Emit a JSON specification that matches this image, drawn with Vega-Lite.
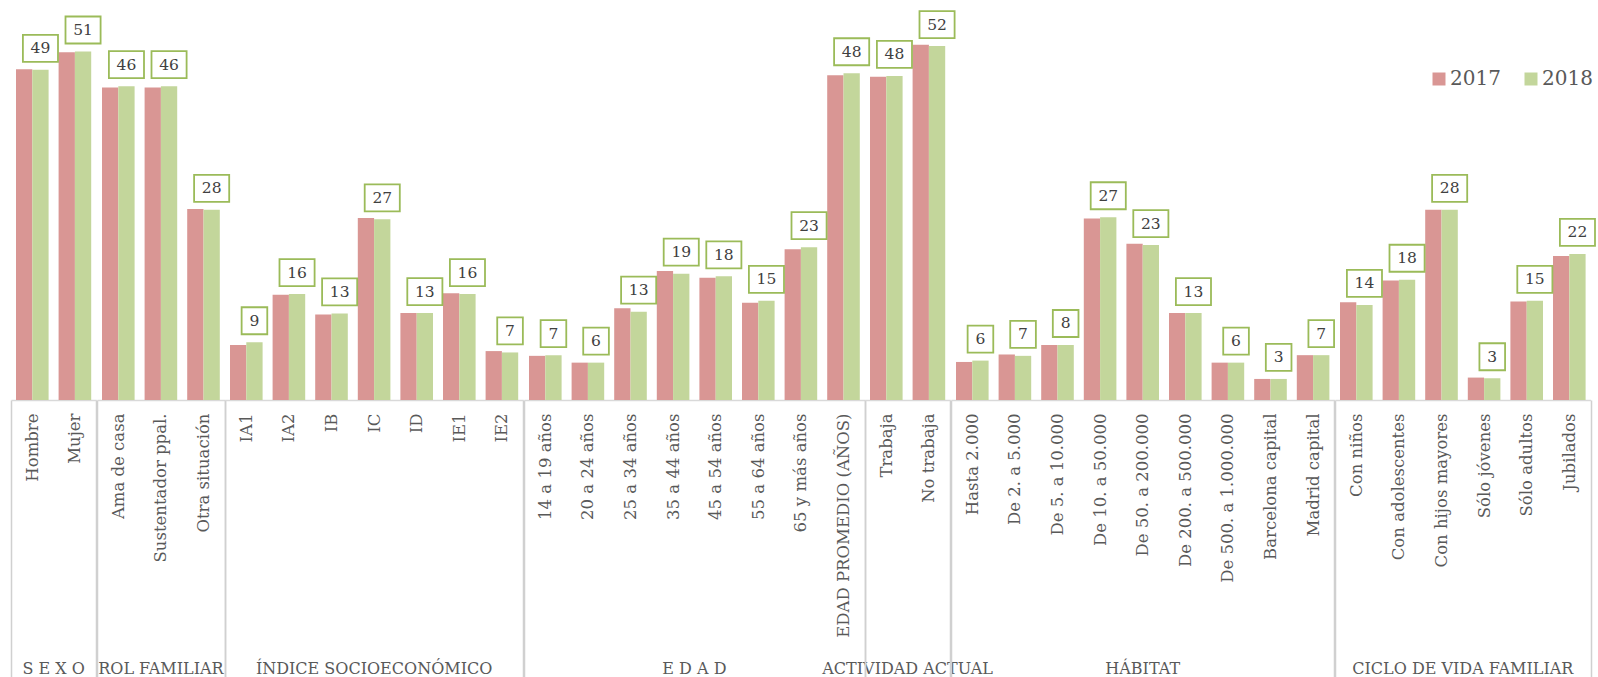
{
  "$schema": "https://vega.github.io/schema/vega-lite/v6.json",
  "background": "white",
  "padding": {"left": 3, "top": 6, "right": 0, "bottom": 0},
  "autosize": {"type": "pad"},
  "bounds": "flush",
  "data": {"values": [
    {"grupo": "S E X O", "cat": "Hombre", "2017": 48.7, "2018": 48.6},
    {"grupo": "S E X O", "cat": "Mujer", "2017": 51.2, "2018": 51.3},
    {"grupo": "ROL FAMILIAR", "cat": "Ama de casa", "2017": 46.0, "2018": 46.2},
    {"grupo": "ROL FAMILIAR", "cat": "Sustentador ppal.", "2017": 46.0, "2018": 46.2},
    {"grupo": "ROL FAMILIAR", "cat": "Otra situación", "2017": 28.1, "2018": 28.0},
    {"grupo": "ÍNDICE SOCIOECONÓMICO", "cat": "IA1", "2017": 8.1, "2018": 8.5},
    {"grupo": "ÍNDICE SOCIOECONÓMICO", "cat": "IA2", "2017": 15.5, "2018": 15.6},
    {"grupo": "ÍNDICE SOCIOECONÓMICO", "cat": "IB", "2017": 12.6, "2018": 12.75},
    {"grupo": "ÍNDICE SOCIOECONÓMICO", "cat": "IC", "2017": 26.8, "2018": 26.6},
    {"grupo": "ÍNDICE SOCIOECONÓMICO", "cat": "ID", "2017": 12.8, "2018": 12.8},
    {"grupo": "ÍNDICE SOCIOECONÓMICO", "cat": "IE1", "2017": 15.7, "2018": 15.6},
    {"grupo": "ÍNDICE SOCIOECONÓMICO", "cat": "IE2", "2017": 7.2, "2018": 7.0},
    {"grupo": "E D A D", "cat": "14 a 19 años", "2017": 6.5, "2018": 6.6},
    {"grupo": "E D A D", "cat": "20 a 24 años", "2017": 5.5, "2018": 5.5},
    {"grupo": "E D A D", "cat": "25 a 34 años", "2017": 13.5, "2018": 13.0},
    {"grupo": "E D A D", "cat": "35 a 44 años", "2017": 19.0, "2018": 18.6},
    {"grupo": "E D A D", "cat": "45 a 54 años", "2017": 18.0, "2018": 18.2},
    {"grupo": "E D A D", "cat": "55 a 64 años", "2017": 14.3, "2018": 14.6},
    {"grupo": "E D A D", "cat": "65 y más años", "2017": 22.2, "2018": 22.5},
    {"grupo": "E D A D", "cat": "EDAD PROMEDIO (AÑOS)", "2017": 47.8, "2018": 48.1},
    {"grupo": "ACTIVIDAD ACTUAL", "cat": "Trabaja", "2017": 47.6, "2018": 47.7},
    {"grupo": "ACTIVIDAD ACTUAL", "cat": "No trabaja", "2017": 52.3, "2018": 52.1},
    {"grupo": "HÁBITAT", "cat": "Hasta 2.000", "2017": 5.6, "2018": 5.8},
    {"grupo": "HÁBITAT", "cat": "De 2. a 5.000", "2017": 6.7, "2018": 6.5},
    {"grupo": "HÁBITAT", "cat": "De 5. a 10.000", "2017": 8.1, "2018": 8.1},
    {"grupo": "HÁBITAT", "cat": "De 10. a 50.000", "2017": 26.7, "2018": 26.9},
    {"grupo": "HÁBITAT", "cat": "De 50. a 200.000", "2017": 23.0, "2018": 22.8},
    {"grupo": "HÁBITAT", "cat": "De 200. a 500.000", "2017": 12.8, "2018": 12.8},
    {"grupo": "HÁBITAT", "cat": "De 500. a 1.000.000", "2017": 5.5, "2018": 5.5},
    {"grupo": "HÁBITAT", "cat": "Barcelona capital", "2017": 3.1, "2018": 3.1},
    {"grupo": "HÁBITAT", "cat": "Madrid capital", "2017": 6.6, "2018": 6.6},
    {"grupo": "CICLO DE VIDA FAMILIAR", "cat": "Con niños", "2017": 14.4, "2018": 14.0},
    {"grupo": "CICLO DE VIDA FAMILIAR", "cat": "Con adolescentes", "2017": 17.6, "2018": 17.7},
    {"grupo": "CICLO DE VIDA FAMILIAR", "cat": "Con hijos mayores", "2017": 28.0, "2018": 28.0},
    {"grupo": "CICLO DE VIDA FAMILIAR", "cat": "Sólo jóvenes", "2017": 3.3, "2018": 3.2},
    {"grupo": "CICLO DE VIDA FAMILIAR", "cat": "Sólo adultos", "2017": 14.5, "2018": 14.6},
    {"grupo": "CICLO DE VIDA FAMILIAR", "cat": "Jubilados", "2017": 21.2, "2018": 21.5}
  ]},
  "transform": [{"fold": ["2017", "2018"], "as": ["anio", "valor"]}],
  "facet": {
    "column": {
      "field": "grupo", "type": "nominal", "title": null,
      "sort": ["S E X O", "ROL FAMILIAR", "ÍNDICE SOCIOECONÓMICO", "E D A D", "ACTIVIDAD ACTUAL", "HÁBITAT", "CICLO DE VIDA FAMILIAR"],
      "header": {"labelOrient": "bottom", "labelFontSize": 16, "labelColor": "#595959", "labelFont": "DejaVu Serif", "labelPadding": 261, "labelBaseline": "top"}
    }
  },
  "spacing": 0,
  "resolve": {"scale": {"x": "independent", "xOffset": "independent"}},
  "spec": {
    "width": {"step": 42.6, "for": "position"},
    "height": 394,
    "layer": [
      {
        "mark": {"type": "bar"},
        "encoding": {
          "x": {"field": "cat", "type": "nominal", "sort": null,
            "scale": {"type": "band", "paddingInner": 0, "paddingOuter": 0},
            "axis": {"title": null, "labelAngle": -90, "labelFontSize": 16.5, "labelColor": "#595959", "labelFont": "DejaVu Serif", "labelLimit": 300, "labelPadding": -264,
              "tickBand": "extent", "tickSize": 277, "tickWidth": 1.5,
              "tickColor": {"condition": {"test": "datum.extra || datum.value == 'Jubilados' || datum.value == 'Mujer' || datum.value == 'Otra situación' || datum.value == 'IE2' || datum.value == 'EDAD PROMEDIO (AÑOS)' || datum.value == 'No trabaja' || datum.value == 'Madrid capital'", "value": "#d0d0d0"}, "value": "transparent"},
              "domainColor": "#d9d9d9", "domainWidth": 1.5}},
          "xOffset": {"field": "anio", "type": "nominal", "scale": {"type": "band", "paddingInner": 0, "paddingOuter": 0.3067}},
          "y": {"field": "valor", "type": "quantitative", "scale": {"domain": [0, 58], "nice": false}, "axis": null},
          "color": {"field": "anio", "type": "nominal", "scale": {"domain": ["2017", "2018"], "range": ["#D99694", "#C3D69B"]},
            "legend": {"title": null, "orient": "none", "legendX": 1418, "legendY": 63, "direction": "horizontal", "symbolType": "square", "symbolSize": 169, "symbolStrokeWidth": 0, "labelFontSize": 20, "labelColor": "#595959", "labelFont": "DejaVu Serif", "columnPadding": 20, "labelOffset": 1, "padding": 0}}
        }
      },
      {
        "transform": [{"filter": "datum.anio == '2018'"}],
        "mark": {"type": "point", "filled": true, "fill": "white", "stroke": "#9BBB59", "strokeWidth": 1.8, "opacity": 1, "size": 729, "yOffset": -21.5},
        "encoding": {
          "x": {"field": "cat", "type": "nominal", "sort": null, "scale": {"type": "band"}},
          "xOffset": {"field": "anio", "type": "nominal", "scale": {"type": "band"}},
          "y": {"field": "valor", "type": "quantitative"},
          "shape": {"condition": {"test": "datum.valor < 9.5", "value": "M-0.95,-1L0.95,-1L0.95,1L-0.95,1Z"}, "value": "M-1.3,-1L1.3,-1L1.3,1L-1.3,1Z"}
        }
      },
      {
        "transform": [{"filter": "datum.anio == '2018'"}],
        "mark": {"type": "text", "dy": -21.5, "fontSize": 15.5, "font": "DejaVu Serif", "color": "#404040", "baseline": "middle"},
        "encoding": {
          "x": {"field": "cat", "type": "nominal", "sort": null, "scale": {"type": "band"}},
          "xOffset": {"field": "anio", "type": "nominal", "scale": {"type": "band"}},
          "y": {"field": "valor", "type": "quantitative"},
          "text": {"field": "valor", "type": "quantitative", "format": ".0f"}
        }
      }
    ]
  },
  "config": {"view": {"stroke": null}, "font": "DejaVu Serif"}
}
